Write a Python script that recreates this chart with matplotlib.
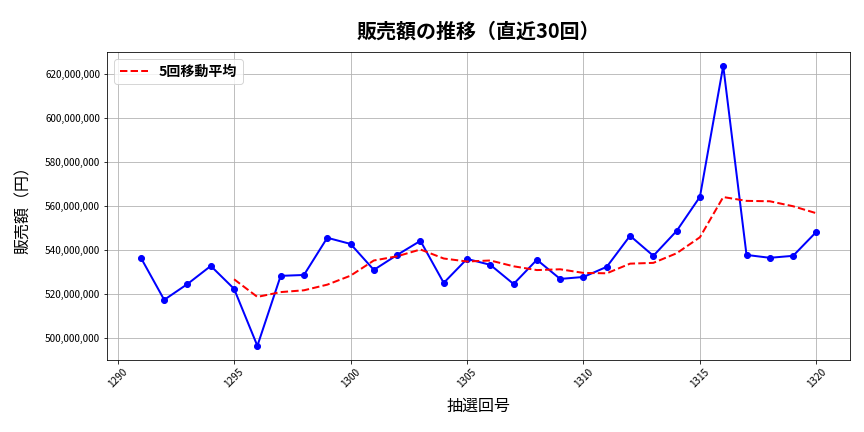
import pandas as pd
import matplotlib.pyplot as plt
import matplotlib.ticker as mticker

plt.rcParams['font.family'] = ['Noto Sans CJK JP', 'DejaVu Sans']

# Draw numbers (last 30) and sales amounts
draws = list(range(1291, 1321))
sales = [
    536.4, 517.3, 524.5, 532.7, 522.3, 496.4, 528.2, 528.6, 545.5, 542.7,
    530.9, 537.7, 544.1, 525.0, 535.9, 533.2, 524.5, 535.5, 526.8, 527.7,
    532.3, 546.4, 537.3, 548.6, 564.1, 623.6, 537.7, 536.4, 537.3, 548.2,
]
sales = [v * 1e6 for v in sales]

df = pd.DataFrame({'draw': draws, 'sales': sales})
df['ma5'] = df['sales'].rolling(5).mean()

fig, ax = plt.subplots(figsize=(12, 6), dpi=72)

ax.plot(df['draw'], df['sales'], marker='o', color='blue', linewidth=2, markersize=6)
ax.plot(df['draw'], df['ma5'], linestyle='--', color='red', linewidth=2, label='5回移動平均')

ax.set_title('販売額の推移（直近30回）', fontsize=20, fontweight='bold', pad=14)
ax.set_xlabel('抽選回号', fontsize=16, labelpad=8)
ax.set_ylabel('販売額（円）', fontsize=16, labelpad=13)

ax.yaxis.set_major_formatter(mticker.FuncFormatter(lambda v, p: f'{int(v):,}'))
ax.tick_params(axis='both', labelsize=10)
plt.xticks(rotation=45)

ax.grid(True, color='#b0b0b0', linewidth=0.8)
ax.legend(loc='upper left', prop={'size': 14, 'weight': 'bold'})

plt.subplots_adjust(left=0.124, right=0.984, top=0.880, bottom=0.167)
plt.savefig('out.png', dpi=72)
